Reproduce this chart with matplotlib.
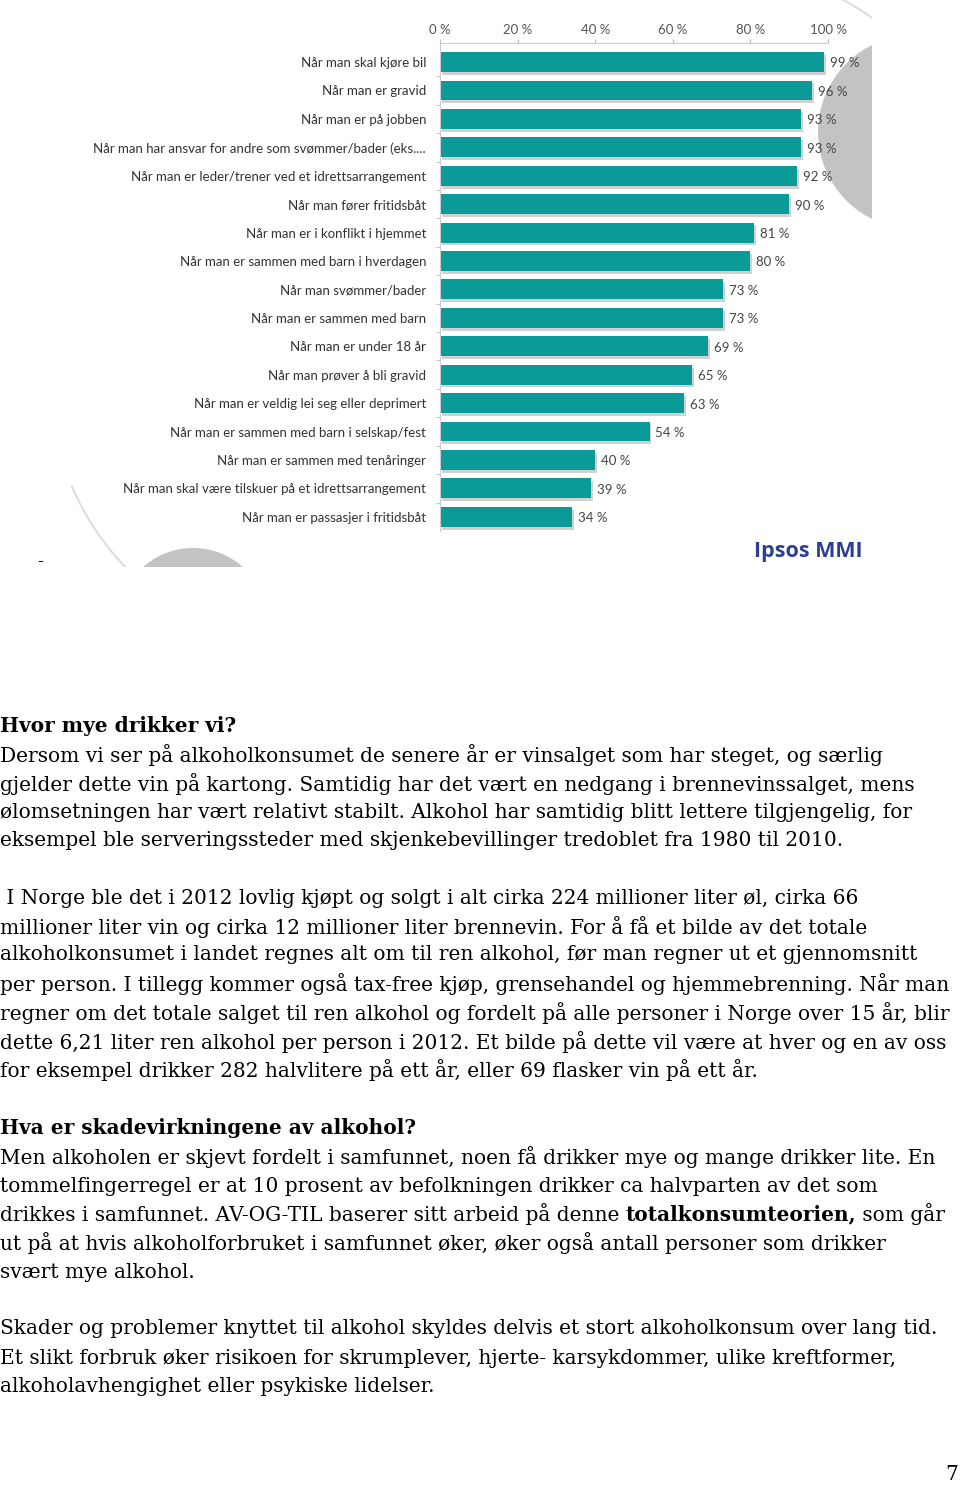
import matplotlib.pyplot as plt
import matplotlib.patches as mpatches
import numpy as np

# chart data (Ipsos MMI)
categories = [
    'Når man skal kjøre bil',
    'Når man er gravid',
    'Når man er på jobben',
    'Når man har ansvar for andre som svømmer/bader (eks....',
    'Når man er leder/trener ved et idrettsarrangement',
    'Når man fører fritidsbåt',
    'Når man er i konflikt i hjemmet',
    'Når man er sammen med barn i hverdagen',
    'Når man svømmer/bader',
    'Når man er sammen med barn',
    'Når man er under 18 år',
    'Når man prøver å bli gravid',
    'Når man er veldig lei seg eller deprimert',
    'Når man er sammen med barn i selskap/fest',
    'Når man er sammen med tenåringer',
    'Når man skal være tilskuer på et idrettsarrangement',
    'Når man er passasjer i fritidsbåt',
]
values = [99, 96, 93, 93, 92, 90, 81, 80, 73, 73, 69, 65, 63, 54, 40, 39, 34]
xticks = [0, 20, 40, 60, 80, 100]
xtick_labels = ['0 %', '20 %', '40 %', '60 %', '80 %', '100 %']

# page text: (y in px, text, bold)
body_lines = [
    (726, 'Hvor mye drikker vi?', True),
    (755, 'Dersom vi ser på alkoholkonsumet de senere år er vinsalget som har steget, og særlig', False),
    (784, 'gjelder dette vin på kartong. Samtidig har det vært en nedgang i brennevinssalget, mens', False),
    (812, 'ølomsetningen har vært relativt stabilt. Alkohol har samtidig blitt lettere tilgjengelig, for', False),
    (841, 'eksempel ble serveringssteder med skjenkebevillinger tredoblet fra 1980 til 2010.', False),
    (898, ' I Norge ble det i 2012 lovlig kjøpt og solgt i alt cirka 224 millioner liter øl, cirka 66', False),
    (927, 'millioner liter vin og cirka 12 millioner liter brennevin. For å få et bilde av det totale', False),
    (955, 'alkoholkonsumet i landet regnes alt om til ren alkohol, før man regner ut et gjennomsnitt', False),
    (984, 'per person. I tillegg kommer også tax-free kjøp, grensehandel og hjemmebrenning. Når man', False),
    (1013, 'regner om det totale salget til ren alkohol og fordelt på alle personer i Norge over 15 år, blir', False),
    (1042, 'dette 6,21 liter ren alkohol per person i 2012. Et bilde på dette vil være at hver og en av oss', False),
    (1070, 'for eksempel drikker 282 halvlitere på ett år, eller 69 flasker vin på ett år.', False),
    (1128, 'Hva er skadevirkningene av alkohol?', True),
    (1157, 'Men alkoholen er skjevt fordelt i samfunnet, noen få drikker mye og mange drikker lite. En', False),
    (1186, 'tommelfingerregel er at 10 prosent av befolkningen drikker ca halvparten av det som', False),
    (1243, 'ut på at hvis alkoholforbruket i samfunnet øker, øker også antall personer som drikker', False),
    (1272, 'svært mye alkohol.', False),
    (1329, 'Skader og problemer knyttet til alkohol skyldes delvis et stort alkoholkonsum over lang tid.', False),
    (1358, 'Et slikt forbruk øker risikoen for skrumplever, hjerte- karsykdommer, ulike kreftformer,', False),
    (1386, 'alkoholavhengighet eller psykiske lidelser.', False),
]
mixed_line = (1214, [('drikkes i samfunnet. AV-OG-TIL baserer sitt arbeid på denne ', False),
                     ('totalkonsumteorien,', True),
                     (' som går', False)])

W, H = 960, 1485
fig = plt.figure(figsize=(W / 100, H / 100), dpi=100)

# background decorations in pixel coordinates
deco = fig.add_axes([0, 0, 1, 1])
deco.set_xlim(0, W)
deco.set_ylim(H, 0)
deco.axis('off')
clip = mpatches.Rectangle((0, 0), 872, 567, transform=deco.transData)
c1 = mpatches.Circle((915, 132), 97, color='#c3c3c3', lw=0)
c2 = mpatches.Circle((193, 623), 75, color='#c3c3c3', lw=0)
a1 = mpatches.Arc((320, 380), 540, 540, theta1=128, theta2=157, color='#dddddd', lw=1.5)
a2 = mpatches.Arc((700, 260), 594, 594, theta1=-62, theta2=-50, color='#dddddd', lw=1.5)
for p in [c1, c2, a1, a2]:
    deco.add_patch(p)
    p.set_clip_path(clip)

# bar chart
ax = fig.add_axes([440 / W, 1 - 531 / H, 388 / W, (531 - 43) / H])
ax.patch.set_alpha(0)
y = np.arange(len(categories))
ax.barh(y + 0.1, values, left=0.5, height=0.7, color='#9a9a9a', alpha=0.45, zorder=1)
ax.barh(y, values, height=0.7, color='#0c9a99', zorder=2)
for yi, v in zip(y, values):
    ax.text(v + 1.5, yi + 0.05, f'{v} %', va='center', ha='left', fontsize=9.5,
            color='#444444', family='Lato')
ax.set_xlim(0, 100)
ax.set_ylim(16.5, -0.67)
ax.xaxis.tick_top()
ax.set_xticks(xticks)
ax.set_xticklabels(xtick_labels, fontsize=9.5, color='#555555', family='Lato')
ax.tick_params(axis='x', length=3, color='#bbbbbb', pad=2)
ax.set_yticks(y)
ax.set_yticklabels(categories, fontsize=9.5, color='#333333', family='Lato')
ax.tick_params(axis='y', length=0, pad=10)
ax.set_yticks(np.arange(0.5, 16, 1), minor=True)
ax.tick_params(axis='y', which='minor', length=3, color='#bbbbbb')
for s in ['right', 'bottom']:
    ax.spines[s].set_visible(False)
for s in ['left', 'top']:
    ax.spines[s].set_color('#cccccc')

deco.text(808, 551, 'Ipsos MMI', ha='center', va='center', fontsize=15.5,
          fontweight='bold', color='#2d3f94', family='Open Sans')
deco.text(37, 562, '-', ha='left', va='center', fontsize=13, family='DejaVu Serif')

# page text
fs = 14.5
fam = 'DejaVu Serif'
for yy, txt, bold in body_lines:
    deco.text(0, yy, txt, ha='left', va='center', fontsize=fs, family=fam,
              fontweight='bold' if bold else 'normal', color='black')

fig.canvas.draw()
r = fig.canvas.get_renderer()
x0 = 0
for txt, bold in mixed_line[1]:
    t = deco.text(x0, mixed_line[0], txt, ha='left', va='center', fontsize=fs, family=fam,
                  fontweight='bold' if bold else 'normal', color='black')
    bb = t.get_window_extent(renderer=r)
    x0 = bb.x1

deco.text(958, 1475, '7', ha='right', va='center', fontsize=fs, family=fam)

fig.savefig('out.png', dpi=100, facecolor='white')
